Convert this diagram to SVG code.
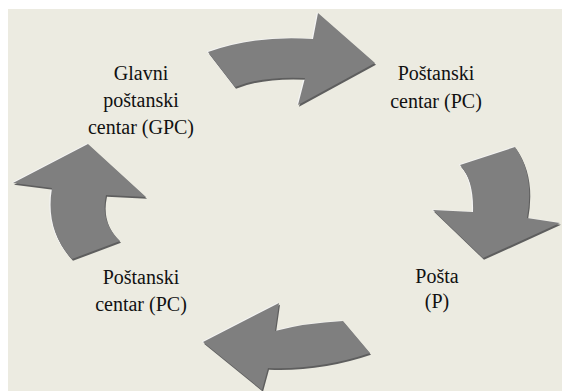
<svg xmlns="http://www.w3.org/2000/svg" width="562" height="391" viewBox="0 0 562 391">
<style>
.lbl{font-family:'Liberation Serif','Times New Roman',serif;font-size:20px;fill:#111;text-anchor:middle}
.arr{fill:#7f7f7f}
.sh{fill:#5e5e5e}
.hl{fill:#f4f4f4}
</style>
<defs>
<path id="a1" d="M208,52 Q255,35 313,39 L318,13 L375,63 L298,105 L305,78 Q262,76 235,87 Z"/>
<path id="a2" d="M460,165 L515,147 Q535,175 527,218 L560,223 L483,258 L433,210 L473,212 Q474,180 460,165 Z"/>
<path id="a3" d="M343,321 L370,353 Q320,370 268,368 L262,390 L203,342 L279,303 L275,331 Q305,323 343,321 Z"/>
<path id="a4" d="M88,144 L146,197 L106,195 Q100,222 120,241 L72,259 Q45,230 52,188 L13,183 Z"/>
</defs>
<rect x="8" y="9" width="554" height="382" fill="#ecebe1"/>
<g id="connectors">
<g id="arrow-top">
<use href="#a1" class="hl" transform="translate(-1.2,-0.6)"/>
<use href="#a1" class="sh" transform="translate(1,1.8)"/>
<use href="#a1" class="arr"/>
</g>
<g id="arrow-right">
<use href="#a2" class="hl" transform="translate(-1.2,-0.6)"/>
<use href="#a2" class="sh" transform="translate(1,1.8)"/>
<use href="#a2" class="arr"/>
</g>
<g id="arrow-bottom">
<use href="#a3" class="hl" transform="translate(-1.2,-0.6)"/>
<use href="#a3" class="sh" transform="translate(1,1.8)"/>
<use href="#a3" class="arr"/>
</g>
<g id="arrow-left">
<use href="#a4" class="hl" transform="translate(-1.2,-0.6)"/>
<use href="#a4" class="sh" transform="translate(1,1.8)"/>
<use href="#a4" class="arr"/>
</g>
</g>
<g id="node-gpc">
<text class="lbl" x="141" y="80">Glavni</text>
<text class="lbl" x="141" y="107">poštanski</text>
<text class="lbl" x="141" y="134">centar (GPC)</text>
</g>
<g id="node-pc-top">
<text class="lbl" x="436" y="80">Poštanski</text>
<text class="lbl" x="436" y="108">centar (PC)</text>
</g>
<g id="node-posta">
<text class="lbl" x="437" y="283">Pošta</text>
<text class="lbl" x="437" y="308">(P)</text>
</g>
<g id="node-pc-bottom">
<text class="lbl" x="141" y="284">Poštanski</text>
<text class="lbl" x="141" y="311">centar (PC)</text>
</g>
</svg>
